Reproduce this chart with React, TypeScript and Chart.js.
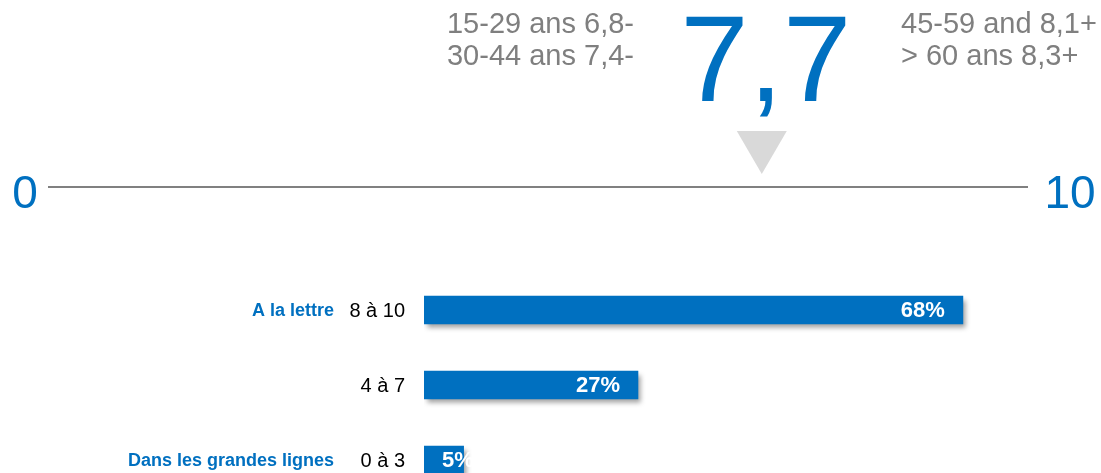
import React, { useEffect, useRef } from 'react';
import { Chart, registerables } from 'chart.js';

Chart.register(...registerables);

// ---- data ----
const categories = ['8 à 10', '4 à 7', '0 à 3'];
const shares = [68, 27, 5];
const groupLabels = ['A la lettre', '', 'Dans les grandes lignes'];
const overallScore = 7.7;
const gaugeMin = 0;
const gaugeMax = 10;
const ageGroups = ['15-29 ans', '30-44 ans', '45-59 and', '> 60 ans'];
const ageScores = [6.8, 7.4, 8.1, 8.3];
const ageTrends = ['-', '-', '+', '+'];
const shareAxisMax = 80;

// ---- styles ----
const FONT = "'Liberation Sans', Arial, Helvetica, sans-serif";
const BLUE = '#0070C0';
const GRAY = '#7F7F7F';
const fmt = (v: number) => v.toFixed(1).replace('.', ',');

const GAUGE_LEFT = 48;
const GAUGE_RIGHT = 975;
const GAUGE_LINE_END = 1028;
const GAUGE_Y = 187;

const overlay = {
  id: 'overlay',
  beforeDatasetsDraw(chart: any) {
    const ctx = chart.ctx;
    ctx.save();
    ctx.shadowColor = 'rgba(0,0,0,0.38)';
    ctx.shadowBlur = 5;
    ctx.shadowOffsetX = 3;
    ctx.shadowOffsetY = 4;
  },
  afterDatasetsDraw(chart: any) {
    const ctx = chart.ctx;
    ctx.restore();
    ctx.save();
    // value labels in bars
    const meta = chart.getDatasetMeta(0);
    ctx.font = `bold 22px ${FONT}`;
    ctx.fillStyle = '#FFFFFF';
    ctx.textBaseline = 'middle';
    meta.data.forEach((el: any, i: number) => {
      const txt = `${shares[i]}%`;
      const w = ctx.measureText(txt).width;
      const start = Math.min(el.base, el.x);
      const end = Math.max(el.base, el.x);
      if (end - start > w + 36) {
        ctx.textAlign = 'right';
        ctx.fillText(txt, end - 18, el.y + 1);
      } else {
        ctx.textAlign = 'left';
        ctx.fillText(txt, start + 18, el.y + 1);
      }
    });
    // category labels + group labels
    const yScale = chart.scales.y;
    const left = chart.chartArea.left;
    ctx.textAlign = 'right';
    ctx.font = `20px ${FONT}`;
    ctx.fillStyle = '#000000';
    categories.forEach((c, i) => {
      ctx.fillText(c, left - 19, yScale.getPixelForValue(i) + 1);
    });
    ctx.font = `bold 18px ${FONT}`;
    ctx.fillStyle = BLUE;
    groupLabels.forEach((g, i) => {
      if (!g) return;
      ctx.fillText(g, 334, yScale.getPixelForValue(i) + 1);
    });

    // gauge
    const toX = (v: number) => GAUGE_LEFT + ((v - gaugeMin) / (gaugeMax - gaugeMin)) * (GAUGE_RIGHT - GAUGE_LEFT);
    ctx.strokeStyle = '#808080';
    ctx.lineWidth = 2;
    ctx.beginPath();
    ctx.moveTo(GAUGE_LEFT, GAUGE_Y);
    ctx.lineTo(GAUGE_LINE_END, GAUGE_Y);
    ctx.stroke();

    ctx.fillStyle = BLUE;
    ctx.font = `46px ${FONT}`;
    ctx.textBaseline = 'alphabetic';
    ctx.textAlign = 'center';
    ctx.fillText(String(gaugeMin), 25, 208);
    ctx.fillText(String(gaugeMax), 1070, 208);

    const mx = toX(overallScore);
    ctx.fillStyle = '#D9D9D9';
    ctx.beginPath();
    ctx.moveTo(mx - 25, 131);
    ctx.lineTo(mx + 25, 131);
    ctx.lineTo(mx, 174);
    ctx.closePath();
    ctx.fill();

    ctx.fillStyle = BLUE;
    ctx.font = `123px ${FONT}`;
    ctx.textAlign = 'center';
    ctx.fillText(fmt(overallScore), mx + 4, 101);

    ctx.fillStyle = GRAY;
    ctx.font = `29px ${FONT}`;
    ageGroups.forEach((g, i) => {
      const txt = `${g} ${fmt(ageScores[i])}${ageTrends[i]}`;
      const row = i % 2;
      const baseY = 33 + row * 32;
      if (i < 2) {
        ctx.textAlign = 'right';
        ctx.fillText(txt, 634, baseY);
      } else {
        ctx.textAlign = 'left';
        ctx.fillText(txt, 901, baseY);
      }
    });
    ctx.restore();
  },
};

export default function App() {
  const ref = useRef<HTMLCanvasElement | null>(null);
  useEffect(() => {
    if (!ref.current) return;
    const chart = new Chart(ref.current, {
      type: 'bar',
      data: {
        labels: categories,
        datasets: [
          {
            data: shares,
            backgroundColor: BLUE,
            borderWidth: 0,
            barThickness: 28,
          },
        ],
      },
      options: {
        indexAxis: 'y',
        animation: false,
        responsive: false,
        devicePixelRatio: 1,
        layout: { padding: { top: 272.5, bottom: 2.5, left: 424, right: 43 } },
        plugins: { legend: { display: false }, tooltip: { enabled: false } },
        scales: {
          x: { display: false, min: 0, max: shareAxisMax },
          y: { display: false },
        },
      },
      plugins: [overlay],
    });
    return () => chart.destroy();
  }, []);
  return (
    <div style={{ position: 'fixed', left: 0, top: 0, width: 1101, height: 473, overflow: 'hidden', background: '#fff' }}>
      <canvas ref={ref} width={1101} height={500} style={{ display: 'block' }} />
    </div>
  );
}
